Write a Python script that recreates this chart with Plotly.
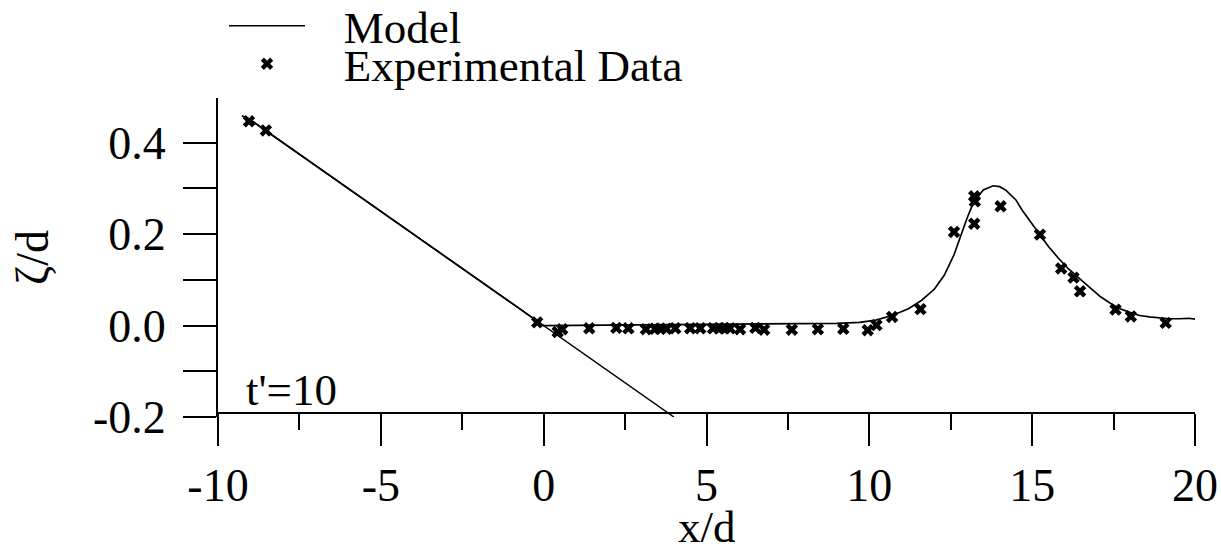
import plotly.graph_objects as go

# Model free-surface profile (x/d, zeta/d)
model_x = [-9.27, -9.05, 0.0, 2.0, 4.0, 6.0, 8.0, 9.0, 9.7, 10.2, 10.7, 11.2, 11.6,
           12.0, 12.3, 12.6, 12.8, 13.0, 13.2, 13.5, 13.8, 14.0, 14.2, 14.5, 14.7,
           15.0, 15.2, 15.5, 15.8, 16.1, 16.5, 16.8, 17.1, 17.4, 17.7, 18.0, 18.3,
           18.6, 18.9, 19.2, 19.5, 19.8, 20.0]
model_y = [0.459, 0.4525, 0.0, 0.001, 0.001, 0.002, 0.003, 0.005, 0.007, 0.012, 0.022,
           0.037, 0.055, 0.080, 0.110, 0.155, 0.195, 0.235, 0.270, 0.297, 0.306, 0.304,
           0.296, 0.275, 0.252, 0.222, 0.201, 0.173, 0.148, 0.125, 0.100, 0.082, 0.063,
           0.049, 0.037, 0.029, 0.022, 0.019, 0.017, 0.015, 0.015, 0.016, 0.014]

# Sloping beach (1:20)
beach_x = [-9.05, 4.0]
beach_y = [0.4525, -0.2]

# Measured surface elevations
exp_x = [-9.05, -8.53, -0.2, 0.43, 0.57, 1.40, 2.23, 2.60, 3.14, 3.42, 3.58, 3.77,
         4.04, 4.50, 4.81, 5.20, 5.40, 5.55, 5.72, 6.03, 6.50, 6.77, 7.62, 8.42, 9.20,
         9.95, 10.22, 10.70, 11.57, 12.60, 13.22, 13.24, 13.22, 14.03, 15.24, 15.89,
         16.27, 16.47, 17.56, 18.03, 19.10]
exp_y = [0.447, 0.427, 0.007, -0.014, -0.008, -0.006, -0.005, -0.006, -0.008, -0.007,
         -0.007, -0.007, -0.006, -0.006, -0.006, -0.006, -0.006, -0.006, -0.006, -0.008,
         -0.005, -0.009, -0.009, -0.008, -0.007, -0.010, 0.001, 0.019, 0.036, 0.205,
         0.283, 0.272, 0.223, 0.261, 0.199, 0.125, 0.105, 0.075, 0.035, 0.020, 0.006]

x_ticks = [-10, -5, 0, 5, 10, 15, 20]
x_ticktext = ["-10", "-5", "0", "5", "10", "15", "20"]
y_ticks = [-0.2, 0.0, 0.2, 0.4]
y_ticktext = ["-0.2", "0.0", "0.2", "0.4"]

FONT = "Liberation Serif, Times New Roman, serif"
W, H = 1221, 554
L, R, T, B = 218, 26, 98, 137
PW, PH = W - L - R, H - T - B

NB = "\u00a0"

fig = go.Figure()
fig.add_trace(go.Scatter(x=beach_x, y=beach_y, mode="lines",
                         line=dict(color="black", width=1.5), showlegend=False,
                         hoverinfo="skip"))
fig.add_trace(go.Scatter(x=model_x, y=model_y, mode="lines", name=NB * 3 + "Model",
                         line=dict(color="black", width=1.7),
                         legend="legend"))
fig.add_trace(go.Scatter(x=exp_x, y=exp_y, mode="markers",
                         name=NB * 3 + "Experimental Data",
                         marker=dict(symbol="x", size=11, color="black",
                                     line=dict(width=0)),
                         cliponaxis=False, legend="legend2"))

leg_common = dict(font=dict(family=FONT, size=45, color="black"),
                  bgcolor="rgba(0,0,0,0)", borderwidth=0, itemwidth=76,
                  valign="top", xanchor="left", yanchor="top", x=(224 - L) / PW)

fig.update_layout(
    width=W, height=H,
    margin=dict(l=L, r=R, t=T, b=B, autoexpand=False),
    paper_bgcolor="white", plot_bgcolor="white",
    font=dict(family=FONT, size=46, color="black"),
    legend=dict(**leg_common, y=1.0 + (T + 10) / PH),
    legend2=dict(**leg_common, y=1.0 + (T - 28) / PH),
    xaxis=dict(
        range=[-10, 20], tickvals=x_ticks, ticktext=x_ticktext, ticks="outside",
        ticklen=32, tickwidth=1.5, tickcolor="black", showline=True, linecolor="black",
        linewidth=2, showgrid=False, zeroline=False, anchor="free", position=0.0125,
        tickfont=dict(family=FONT, size=46),
        minor=dict(dtick=2.5, tick0=0, ticks="outside", ticklen=16, tickwidth=1.5,
                   tickcolor="black", showgrid=False),
    ),
    yaxis=dict(
        range=[-0.2, 0.498], tickvals=y_ticks, ticktext=y_ticktext, ticks="outside",
        ticklen=33, tickwidth=1.5, tickcolor="black", showline=True, linecolor="black",
        linewidth=2, showgrid=False, zeroline=False, ticklabelstandoff=8,
        tickfont=dict(family=FONT, size=46),
        minor=dict(dtick=0.1, tick0=0, ticks="outside", ticklen=33, tickwidth=1.5,
                   tickcolor="black", showgrid=False),
        title=dict(text="ζ/d", font=dict(family=FONT, size=46), standoff=30),
    ),
    annotations=[
        dict(text="t'=10", x=-9.2, y=-0.2, xref="x", yref="y",
             xanchor="left", yanchor="bottom", showarrow=False,
             font=dict(family=FONT, size=45, color="black")),
        # x-axis title placed low, flush with the bottom of the page
        dict(text="x/d", x=0.5, y=(T + PH - H) / PH, xref="paper", yref="paper",
             xanchor="center", yanchor="bottom", showarrow=False,
             font=dict(family=FONT, size=45, color="black")),
    ],
)

fig.write_html("out.html")
